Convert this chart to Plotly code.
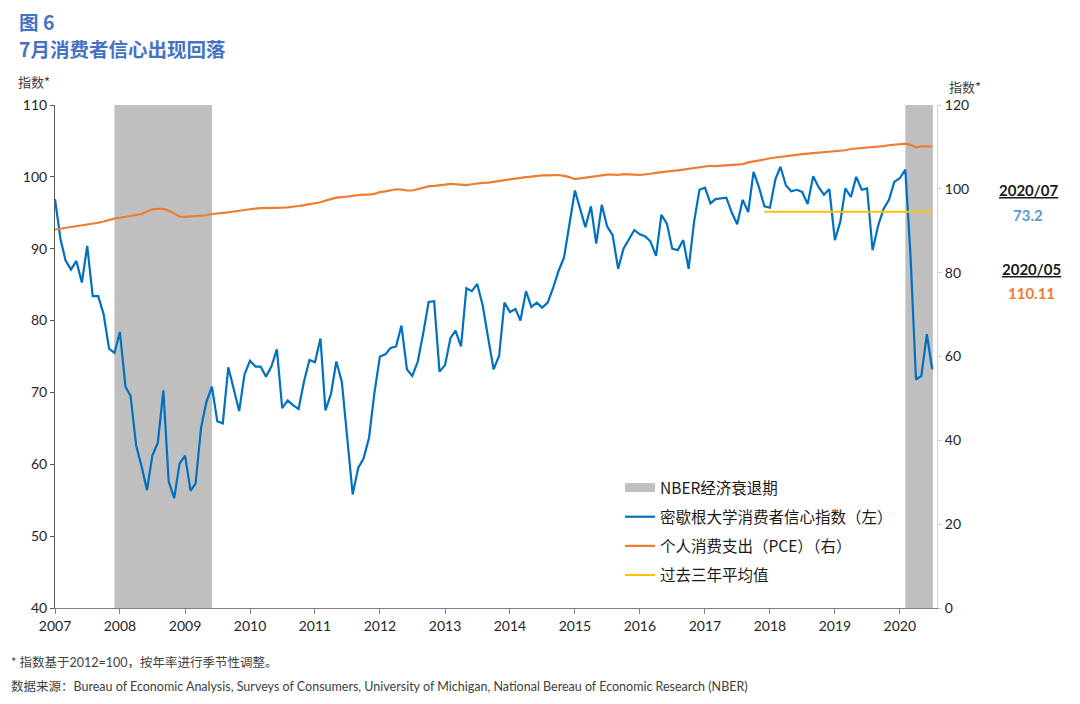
import pandas as pd
import plotly.graph_objects as go

# ---------------- data ----------------
start_month = "2007-01-01"

# University of Michigan consumer sentiment (left axis), monthly 2007-01 .. 2020-07
sentiment = [
    96.9, 91.3, 88.4, 87.1, 88.3, 85.3, 90.4, 83.4, 83.4, 80.9, 76.1, 75.5,   # 2007
    78.4, 70.8, 69.5, 62.6, 59.8, 56.4, 61.2, 63.0, 70.3, 57.6, 55.3, 60.1,   # 2008
    61.2, 56.3, 57.3, 65.1, 68.7, 70.8, 66.0, 65.7, 73.5, 70.6, 67.4, 72.5,   # 2009
    74.4, 73.6, 73.6, 72.2, 73.6, 76.0, 67.8, 68.9, 68.2, 67.7, 71.6, 74.5,   # 2010
    74.2, 77.5, 67.5, 69.8, 74.3, 71.5, 63.7, 55.8, 59.5, 60.8, 63.7, 69.9,   # 2011
    75.0, 75.3, 76.2, 76.4, 79.3, 73.2, 72.3, 74.3, 78.3, 82.6, 82.7, 72.9,   # 2012
    73.8, 77.6, 78.6, 76.4, 84.5, 84.1, 85.1, 82.1, 77.5, 73.2, 75.1, 82.5,   # 2013
    81.2, 81.6, 80.0, 84.1, 81.9, 82.5, 81.8, 82.5, 84.6, 86.9, 88.8, 93.6,   # 2014
    98.1, 95.4, 93.0, 95.9, 90.7, 96.1, 93.1, 91.9, 87.2, 90.0, 91.3, 92.6,   # 2015
    92.0, 91.7, 91.0, 89.0, 94.7, 93.5, 90.0, 89.8, 91.2, 87.2, 93.8, 98.2,   # 2016
    98.5, 96.3, 96.9, 97.0, 97.1, 95.0, 93.4, 96.8, 95.1, 100.7, 98.5, 95.9,  # 2017
    95.7, 99.7, 101.4, 98.8, 98.0, 98.2, 97.9, 96.2, 100.1, 98.6, 97.5, 98.3, # 2018
    91.2, 93.8, 98.4, 97.2, 100.0, 98.2, 98.4, 89.8, 93.2, 95.5, 96.8, 99.3,  # 2019
    99.8, 101.0, 89.1, 71.8, 72.3, 78.1, 73.2,                                # 2020
]

# Personal consumption expenditure index, 2012=100 (right axis)
pce = [
    90.3, 90.5, 90.7, 90.9, 91.1, 91.3, 91.4, 91.6, 91.9, 92.2, 92.6, 92.9,   # 2007
    93.1, 93.3, 93.5, 93.7, 94.0, 94.6, 95.1, 95.2, 95.2, 94.8, 94.0, 93.4,   # 2008
    93.3, 93.4, 93.5, 93.6, 93.7, 94.0, 94.1, 94.3, 94.4, 94.6, 94.8, 95.0,   # 2009
    95.2, 95.3, 95.4, 95.4, 95.5, 95.4, 95.5, 95.6, 95.7, 95.9, 96.1, 96.3,   # 2010
    96.5, 96.8, 97.2, 97.6, 97.9, 98.0, 98.2, 98.3, 98.5, 98.6, 98.6, 98.8,   # 2011
    99.2, 99.4, 99.7, 99.9, 99.8, 99.6, 99.6, 99.9, 100.3, 100.6, 100.7, 100.8,  # 2012
    101.0, 101.2, 101.1, 100.9, 100.9, 101.1, 101.3, 101.4, 101.5, 101.7, 101.8, 102.0,  # 2013
    102.2, 102.4, 102.6, 102.8, 102.9, 103.1, 103.2, 103.2, 103.3, 103.3, 103.1, 102.8,  # 2014
    102.3, 102.5, 102.7, 102.8, 103.0, 103.2, 103.4, 103.4, 103.3, 103.5, 103.5, 103.4,  # 2015
    103.3, 103.4, 103.6, 103.8, 104.0, 104.2, 104.3, 104.4, 104.6, 104.8, 104.9, 105.1,  # 2016
    105.3, 105.5, 105.4, 105.5, 105.5, 105.6, 105.7, 105.9, 106.3, 106.5, 106.8, 107.0,  # 2017
    107.3, 107.5, 107.6, 107.8, 108.0, 108.2, 108.3, 108.4, 108.5, 108.7, 108.8, 108.9,  # 2018
    109.0, 109.0, 109.2, 109.5, 109.6, 109.8, 109.9, 110.0, 110.1, 110.2, 110.4, 110.5,  # 2019
    110.6, 110.8, 110.5, 109.9, 110.11, 110.1, 110.1,                                     # 2020
]

# 3-year average of sentiment
avg_dates = ["2017-12-01", "2020-07-01"]
avg_values = [95.15, 95.15]

# NBER recessions
recession_starts = ["2007-12-01", "2020-02-01"]
recession_ends = ["2009-06-01", "2020-07-05"]

names = ["NBER经济衰退期", "密歇根大学消费者信心指数（左）", "个人消费支出（PCE）（右）", "过去三年平均值"]
latest_labels = ["2020/07", "73.2", "2020/05", "110.11"]

dates = pd.date_range(start_month, periods=len(sentiment), freq="MS")

# ---------------- layout helpers ----------------
OFF = 8  # page body margin of the html page
W, H = 1080 - OFF, 704 - OFF
L, T = 55 - OFF, 105 - OFF
PW, PH = 882, 503
R, B = W - L - PW, H - T - PH


def px(x):
    """window pixel x -> paper coordinate"""
    return (x - OFF - L) / PW


def py(y):
    """window pixel y -> paper coordinate"""
    return (T + PH - (y - OFF)) / PH


BLUE = "#0070C0"
ORANGE = "#ED7D31"
YELLOW = "#FFC000"
GREY = "#BFBFBF"
TITLE = "#4472C4"
TXT = "#262626"
LAT = "Lato, 'Noto Sans CJK SC', sans-serif"
CJK = "'Noto Sans CJK SC', Lato, sans-serif"

fig = go.Figure()

# legend entry for recession shading
fig.add_trace(go.Scatter(x=[None], y=[None], mode="lines", name=names[0],
                         line=dict(color=GREY, width=9), legendgroup="a"))
fig.add_trace(go.Scatter(x=dates, y=sentiment, mode="lines", name=names[1],
                         line=dict(color=BLUE, width=2.2), legendgroup="b"))
fig.add_trace(go.Scatter(x=dates, y=pce, mode="lines", name=names[2], yaxis="y2",
                         line=dict(color=ORANGE, width=2.2), legendgroup="c"))
fig.add_trace(go.Scatter(x=avg_dates, y=avg_values, mode="lines", name=names[3],
                         line=dict(color=YELLOW, width=2), legendgroup="d"))

shapes = []
for s, e in zip(recession_starts, recession_ends):
    shapes.append(dict(type="rect", xref="x", yref="paper", x0=s, x1=e, y0=0, y1=1,
                       fillcolor=GREY, line=dict(width=0), layer="below"))

annotations = [
    dict(text="<b>图 6</b>", x=px(17), y=py(21), font=dict(size=19.5, color=TITLE, family=CJK)),
    dict(text="<b>7月消费者信心出现回落</b>", x=px(17), y=py(48), font=dict(size=19.5, color=TITLE, family=CJK)),
    dict(text="指数*", x=px(16), y=py(82), font=dict(size=13, color="#404040", family=CJK)),
    dict(text="指数*", x=px(947), y=py(86), font=dict(size=13, color="#404040", family=CJK)),
    dict(text="* 指数基于2012=100，按年率进行季节性调整。", x=px(9), y=py(662),
         font=dict(size=12.5, color="#404040", family=LAT)),
    dict(text="数据来源：Bureau of Economic Analysis, Surveys of Consumers, University of Michigan, "
              "National Bereau of Economic Research (NBER)", x=px(9), y=py(686),
         font=dict(size=12.5, color="#404040", family=LAT)),
]
for a in annotations:
    a.update(xref="paper", yref="paper", xanchor="left", yanchor="middle", showarrow=False)

right_notes = [
    (latest_labels[0], 1028, 190, "#1a1a1a", True),
    (latest_labels[1], 1028, 215, "#5B9BD5", False),
    (latest_labels[2], 1032, 269, "#1a1a1a", True),
    (latest_labels[3], 1031, 293, ORANGE, False),
]
for txt, x, y, c, ul in right_notes:
    t = f"<u><b>{txt}</b></u>" if ul else f"<b>{txt}</b>"
    annotations.append(dict(text=t, x=px(x), y=py(y), xref="paper", yref="paper",
                            xanchor="center", yanchor="middle", showarrow=False,
                            font=dict(size=15, color=c, family=LAT)))

fig.update_layout(
    width=W, height=H,
    margin=dict(l=L, r=R, t=T, b=B, pad=0),
    paper_bgcolor="white", plot_bgcolor="white",
    font=dict(family=LAT, color=TXT, size=14),
    shapes=shapes,
    annotations=annotations,
    showlegend=True,
    legend=dict(x=px(620), y=py(471), xanchor="left", yanchor="top",
                bgcolor="rgba(0,0,0,0)", font=dict(size=15.5, family=CJK, color="#1a1a1a"),
                tracegroupgap=6, itemwidth=30),
    xaxis=dict(type="date", range=["2007-01-01", "2020-07-28"], dtick="M12",
               tick0="2007-01-01", tickformat="%Y", ticks="outside", ticklen=5,
               tickcolor="#7f7f7f", showline=True, linecolor="#7f7f7f", linewidth=1,
               showgrid=False, zeroline=False, tickfont=dict(size=14, color=TXT)),
    yaxis=dict(range=[40, 110], dtick=10, ticks="outside", ticklen=4,
               tickcolor="#595959", showline=True, linecolor="#595959", linewidth=1,
               showgrid=False, zeroline=False, tickfont=dict(size=14, color=TXT)),
    yaxis2=dict(range=[0, 120], dtick=20, overlaying="y", side="right",
                ticks="outside", ticklen=4, tickcolor="#d0d0d0", showline=True,
                linecolor="#d0d0d0", linewidth=1, showgrid=False, zeroline=False,
                tickfont=dict(size=14, color=TXT)),
)

fig.write_html("out.html")
